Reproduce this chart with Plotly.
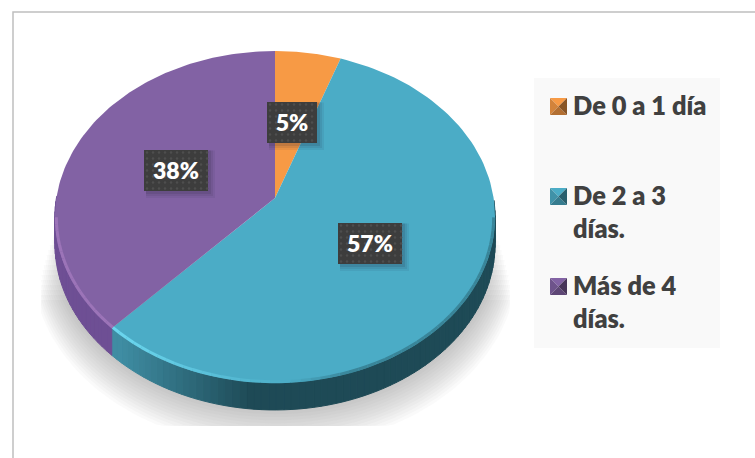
import numpy as np
import plotly.graph_objects as go

labels = ["De 0 a 1 día", "De 2 a 3 días.", "Más de 4 días."]
legend_names = ["De 0 a 1 día<br> ", "De 2 a 3<br>días.", "Más de 4<br>días."]
values = [5.4, 56.6, 38.0]
percent_labels = ["5%", "57%", "38%"]
colors = ["#F79A45", "#4BACC6", "#8262A4"]
side_dark = ["#9A5A20", "#1E4A56", "#5F4385"]
side_light = ["#C97A30", "#3F8DA3", "#6E4F94"]
rim_light = ["#FFB060", "#6BD6EE", "#9C74B8"]

CX, CY, R, C, A, DEPTH = 275.0, 198.0, 218.6, -0.1145, 141.1, 27.0


def project(theta, r=1.0, dy=0.0):
    u, v = r * np.sin(theta), -r * np.cos(theta)
    d = 1 + C * v
    return CX + R * u / d, (CY + A * v) / d + dy


def mix(c1, c2, t):
    a = [int(c1[i:i + 2], 16) for i in (1, 3, 5)]
    b = [int(c2[i:i + 2], 16) for i in (1, 3, 5)]
    return "rgb(%d,%d,%d)" % tuple(round(x + (y - x) * t) for x, y in zip(a, b))


fig = go.Figure()


def poly(x, y, color, seam=False):
    fig.add_trace(go.Scatter(x=x, y=y, mode="lines", fill="toself", fillcolor=color,
                             line=dict(width=1 if seam else 0, color=color),
                             hoverinfo="skip", showlegend=False))


# soft shadow under the pie
full = np.linspace(0, 2 * np.pi, 181)
for k in range(16):
    x, y = project(full, 0.995 + 0.007 * k, 20 + 1.6 * k)
    x, y = np.clip(x, 41, 510), np.clip(y, 225 + 5 * k, 426)
    poly(x, y, "rgba(110,110,110,0.035)")

# slice boundaries, clockwise from twelve o'clock
edges = np.cumsum([0.0] + values) / sum(values) * 2 * np.pi

# side wall
for i in range(3):
    grid = np.linspace(edges[i], edges[i + 1], max(2, int((edges[i + 1] - edges[i]) / 0.03)))
    for t0, t1 in zip(grid[:-1], grid[1:]):
        if np.cos((t0 + t1) / 2) > 0.0:
            continue
        x0, y0 = project(t0)
        x1, y1 = project(t1)
        x2, y2 = project(t1, dy=DEPTH)
        x3, y3 = project(t0, dy=DEPTH)
        shade = np.clip((250 - (x0 + x1) / 2) / 130.0, 0, 1)
        poly([x0, x1, x2, x3, x0], [y0, y1, y2, y3, y0], mix(side_dark[i], side_light[i], shade), seam=True)

# top face
for i in range(3):
    arc = np.linspace(edges[i], edges[i + 1], 120)
    x, y = project(arc)
    poly(np.r_[CX, x, CX], np.r_[CY, y, CY], colors[i])

# bevelled rim on the near edge
for i in range(3):
    grid = np.linspace(edges[i], edges[i + 1], max(2, int((edges[i + 1] - edges[i]) / 0.04)))
    for t0, t1 in zip(grid[:-1], grid[1:]):
        mid = (t0 + t1) / 2
        if np.cos(mid) > -0.1:
            continue
        x, y = project(np.array([t0, t1]), 0.994)
        mx = x.mean()
        if mx < 290:
            col = mix(colors[i], rim_light[i], np.clip((290 - mx) / 170.0, 0, 1))
        else:
            col = mix(colors[i], side_dark[i], 0.4 * np.clip((mx - 290) / 60.0, 0, 1))
        fig.add_trace(go.Scatter(x=x, y=y, mode="lines", hoverinfo="skip", showlegend=False,
                                 line=dict(width=3, color=col)))

# percentage tags
tag_centers = [(292, 122.5), (176, 170.5), (370, 243.5)]
tag_order = [0, 2, 1]
tag_widths = [50, 64, 64]
for n, (cx, cy) in zip(tag_order, tag_centers):
    w = tag_widths[tag_order.index(n)]
    for s, a in ((7, 0.07), (5, 0.09), (3, 0.12)):
        poly([cx - w / 2 + 2, cx + w / 2 + s, cx + w / 2 + s, cx - w / 2 + 2, cx - w / 2 + 2],
             [cy - 20, cy - 20, cy + 20.5 + s, cy + 20.5 + s, cy - 20], "rgba(30,30,50,%.2f)" % a)
    poly([cx - w / 2, cx + w / 2, cx + w / 2, cx - w / 2, cx - w / 2],
         [cy - 20.5, cy - 20.5, cy + 20.5, cy + 20.5, cy - 20.5], "#3D3D3D")
    gx, gy = np.meshgrid(np.arange(cx - w / 2 + 3, cx + w / 2, 6), np.arange(cy - 18, cy + 20, 6))
    fig.add_trace(go.Scatter(x=gx.ravel(), y=gy.ravel(), mode="markers", hoverinfo="skip", showlegend=False,
                             marker=dict(size=2.5, color="#4E4E4E", line=dict(width=0))))
    fig.add_trace(go.Scatter(x=[cx], y=[cy + 3], mode="text", text=[percent_labels[n]], hoverinfo="skip",
                             showlegend=False, textposition="middle center",
                             textfont=dict(family="Lato", size=23, color="white", weight=800)))

# bevelled legend keys, level with the first line of each entry
key_tops = [98, 188, 278]
for i, top in enumerate(key_tops):
    x0, x1, y0, y1 = 550, 567, top, top + 17
    mx, my = (x0 + x1) / 2, (y0 + y1) / 2
    poly([x0, x1, mx, x0], [y0, y0, my, y0], colors[i])
    poly([x0, mx, x0, x0], [y0, my, y1, y0], mix(colors[i], "#000000", 0.15))
    poly([x0, x1, mx, x0], [y1, y1, my, y1], mix(colors[i], "#000000", 0.28))
    poly([x1, x1, mx, x1], [y0, y1, my, y0], mix(colors[i], "#000000", 0.45))

# legend entries
for i in range(3):
    fig.add_trace(go.Scatter(x=[None], y=[None], mode="markers", name=legend_names[i], legendgroup=labels[i],
                             marker=dict(symbol="square", size=17, color="rgba(0,0,0,0)", line=dict(width=0))))

fig.update_layout(
    width=755, height=458, margin=dict(l=0, r=0, t=0, b=0),
    paper_bgcolor="white", plot_bgcolor="white",
    xaxis=dict(range=[0, 755], visible=False, fixedrange=True),
    yaxis=dict(range=[458, 0], visible=False, fixedrange=True),
    shapes=[
        dict(type="rect", xref="x", yref="y", x0=13, y0=12, x1=800, y1=500, layer="below",
             line=dict(color="#BFBFBF", width=1.5), fillcolor="white"),
        dict(type="rect", xref="x", yref="y", x0=534, y0=78, x1=720, y1=348, layer="below",
             line=dict(width=0), fillcolor="#F9F9F9"),
    ],
    legend=dict(x=533 / 755, y=1 - 82 / 458, xanchor="left", yanchor="top", bgcolor="rgba(0,0,0,0)",
                font=dict(family="Lato", size=25.4, color="#404040", weight=800),
                tracegroupgap=21, itemclick=False, itemdoubleclick=False),
    showlegend=True,
)
fig.write_html("out.html", config=dict(displayModeBar=False),
               post_script="document.body.style.margin='0';document.documentElement.style.overflow='hidden';")
